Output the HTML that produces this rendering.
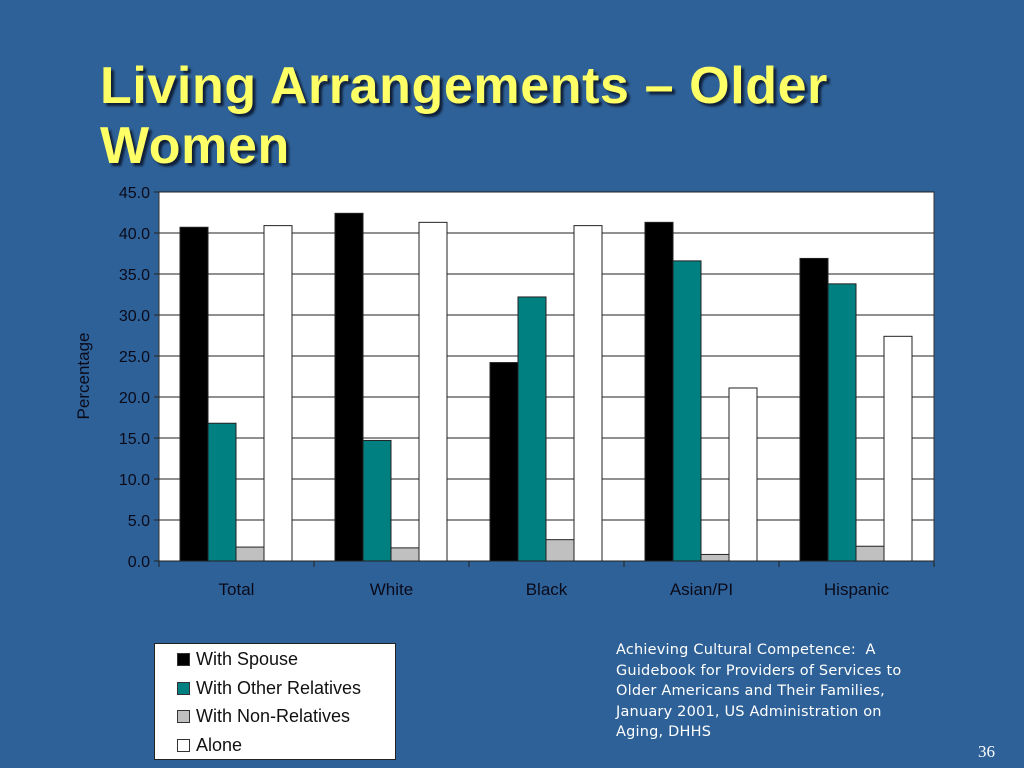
<!DOCTYPE html>
<html><head><meta charset="utf-8"><style>
body{margin:0;width:1024px;height:768px;background:#2E6197;overflow:hidden;font-family:"Liberation Sans",sans-serif;position:relative}
#title{position:absolute;left:100px;top:56px;color:#FFFF66;font-weight:bold;font-size:52px;letter-spacing:0.6px;line-height:60px;text-shadow:3px 3px 2px #10203a;margin:0;white-space:nowrap}
#legend{position:absolute;left:154px;top:643px;width:240px;height:115px;background:#fff;border:1px solid #222;font-size:18px;color:#111}
.le{position:absolute;left:22px;height:22px;line-height:22px}
.sw{display:inline-block;width:11px;height:11px;border:1px solid #333;margin-right:6px;vertical-align:-1px}
#src{position:absolute;left:616px;top:640px;color:#fff;font-family:"DejaVu Sans",sans-serif;font-size:14.5px;letter-spacing:0.2px;line-height:20.5px;white-space:nowrap}
#pg{position:absolute;left:978px;top:742px;color:#fff;font-family:"Liberation Serif",serif;font-size:17px}
</style></head><body>
<h1 id="title">Living Arrangements – Older<br>Women</h1>
<svg id="chart" width="1024" height="640" style="position:absolute;left:0;top:0"></svg>
<div id="legend">
<div class="le" style="top:4px"><span class="sw" style="background:#000"></span>With Spouse</div>
<div class="le" style="top:33px"><span class="sw" style="background:#008080"></span>With Other Relatives</div>
<div class="le" style="top:61px"><span class="sw" style="background:#C0C0C0"></span>With Non-Relatives</div>
<div class="le" style="top:90px"><span class="sw" style="background:#fff"></span>Alone</div>
</div>
<div id="src">Achieving Cultural Competence:&nbsp; A<br>Guidebook for Providers of Services to<br>Older Americans and Their Families,<br>January 2001, US Administration on<br>Aging, DHHS</div>
<div id="pg">36</div>
<script>
const categories=["Total","White","Black","Asian/PI","Hispanic"];
const spouse=[40.7,42.4,24.2,41.3,36.9];
const otherRel=[16.8,14.7,32.2,36.6,33.8];
const nonRel=[1.7,1.6,2.6,0.8,1.8];
const alone=[40.9,41.3,40.9,21.1,27.4];
const yTicks=[0,5,10,15,20,25,30,35,40,45];
const series=[spouse,otherRel,nonRel,alone];
const colors=["#000000","#008080","#C0C0C0","#FFFFFF"];
const sNames=["spouse","other-relatives","non-relatives","alone"];
const L=159,R=934,T=192,B=561,yMax=45;
const svg=document.getElementById('chart');const NS="http://www.w3.org/2000/svg";
function y(v){return B-(v/yMax)*(B-T);}
const gw=(R-L)/categories.length;
function mk(t,a){const e=document.createElementNS(NS,t);for(const k in a)e.setAttribute(k,a[k]);svg.appendChild(e);return e;}
let e=mk('rect',{x:L,y:T,width:R-L,height:B-T,fill:'#fff',stroke:'#333','stroke-width':1});


yTicks.forEach(v=>{
 let g=mk('line',{x1:L-5,x2:R,y1:y(v),y2:y(v),stroke:'#222','stroke-width':1});
 
 
 let t=mk('text',{x:L-9,y:y(v)+6,'text-anchor':'end','font-size':16,fill:'#0a0a1a','font-family':'Liberation Sans'});
 t.textContent=v.toFixed(1);
 
 
});
for(let i=0;i<=categories.length;i++){
 let tk=mk('line',{x1:L+i*gw,x2:L+i*gw,y1:B,y2:B+6,stroke:'#222'});
 
 
}
const bw=28;
categories.forEach((c,i)=>{
 const gx=L+i*gw+21;
 series.forEach((s,j)=>{
  let b=mk('rect',{x:gx+j*bw,y:y(s[i]),width:bw,height:B-y(s[i]),fill:colors[j],stroke:'#222','stroke-width':1});
  
  
 });
 let t=mk('text',{x:L+i*gw+gw/2,y:595,'text-anchor':'middle','font-size':17,fill:'#0a0a1a','font-family':'Liberation Sans'});
 t.textContent=c;
 
 
});
let yt=mk('text',{x:0,y:0,transform:'translate(89,376) rotate(-90)','text-anchor':'middle','font-size':17,fill:'#0a0a1a','font-family':'Liberation Sans'});
yt.textContent='Percentage';


</script>
</body></html>
